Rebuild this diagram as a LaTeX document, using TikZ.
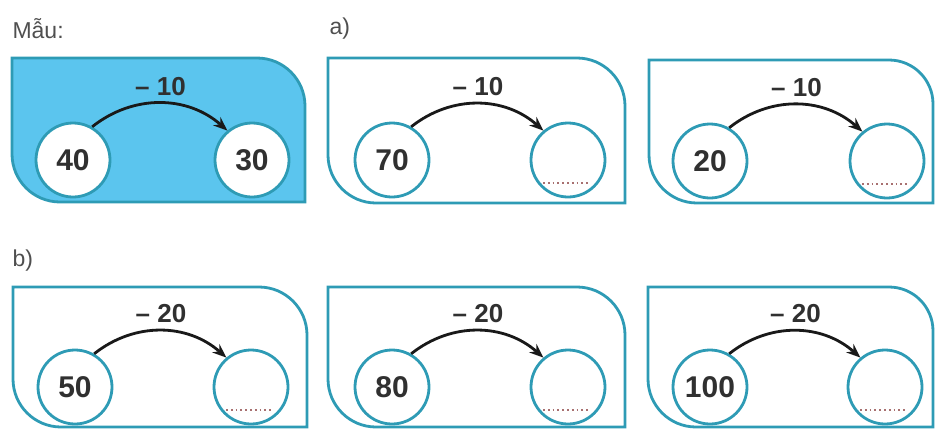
\documentclass[tikz,border=0pt]{standalone}
\usepackage{fontspec}
\setmainfont{Liberation Sans}
\usetikzlibrary{arrows.meta}

\definecolor{panelblue}{HTML}{2E9BB5}
\definecolor{samplefill}{HTML}{5BC5EE}
\definecolor{inktext}{HTML}{303030}
\definecolor{dotred}{HTML}{A87070}

\begin{document}
\begin{tikzpicture}[x=1pt,y=1pt]
	\tikzstyle{panel_line} = [draw=panelblue, line width=2.8pt]
	\tikzstyle{num_circle} = [circle, draw=panelblue, line width=2.8pt, fill=white, minimum size=74pt, inner sep=0pt, font=\bfseries\fontsize{30}{30}\selectfont, text=inktext]
	\tikzstyle{step_arrow} = [-{Stealth[length=14pt,width=11pt]}, line width=2.8pt, draw=black!90, bend left=40]
	\tikzstyle{step_label} = [above=3pt, font=\bfseries\fontsize{26}{26}\selectfont, text=inktext]
	\tikzstyle{blank_dots} = [dotred, line width=1.8pt, dash pattern=on 1.8pt off 3pt]
	\tikzstyle{part_label} = [anchor=west, font=\fontsize{23}{23}\selectfont, text=inktext!85]

	\useasboundingbox (0,0) rectangle (936,-429);
	\clip (0,0) rectangle (936,-429);

%------------------------------------------------------------
	\node[part_label] (lmau) at (9,-29) {Mẫu:};
	\node[part_label] (la) at (326,-29) {a)};
	\node[part_label] (lb) at (9,-261) {b)};

%------------------------------------------------------------

	\draw[panel_line, fill=samplefill] (12,-58) -- (257,-58) arc[start angle=90, end angle=0, radius=48] -- (305,-202) -- (60,-202) arc[start angle=270, end angle=180, radius=48] -- cycle;
	\node[num_circle] (s0) at (73,-160) {\raisebox{-3pt}{40}};
	\node[num_circle] (t0) at (252,-160) {\raisebox{-3pt}{30}};
	\draw[step_arrow] (s0.60) to node[step_label] {– 10} (t0.130);

%------------------------------------------------------------

	\draw[panel_line] (328,-58) -- (577,-58) arc[start angle=90, end angle=0, radius=48] -- (625,-203) -- (376,-203) arc[start angle=270, end angle=180, radius=48] -- cycle;
	\node[num_circle] (s1) at (392,-160) {\raisebox{-3pt}{70}};
	\node[num_circle] (t1) at (568,-160) {};
	\draw[step_arrow] (s1.60) to node[step_label] {– 10} (t1.130);
	\draw[blank_dots] ([shift={(-25,-23)}]t1.center) -- ([shift={(20,-23)}]t1.center);

%------------------------------------------------------------

	\draw[panel_line] (649,-60) -- (889,-60) arc[start angle=90, end angle=0, radius=44] -- (933,-203) -- (697,-203) arc[start angle=270, end angle=180, radius=48] -- cycle;
	\node[num_circle] (s2) at (710,-161) {\raisebox{-3pt}{20}};
	\node[num_circle] (t2) at (887,-161) {};
	\draw[step_arrow] (s2.60) to node[step_label] {– 10} (t2.130);
	\draw[blank_dots] ([shift={(-25,-23)}]t2.center) -- ([shift={(20,-23)}]t2.center);

%------------------------------------------------------------

	\draw[panel_line] (13,-287) -- (259,-287) arc[start angle=90, end angle=0, radius=48] -- (307,-427) -- (61,-427) arc[start angle=270, end angle=180, radius=48] -- cycle;
	\node[num_circle] (s3) at (75,-387) {\raisebox{-3pt}{50}};
	\node[num_circle] (t3) at (251,-387) {};
	\draw[step_arrow] (s3.60) to node[step_label] {– 20} (t3.130);
	\draw[blank_dots] ([shift={(-25,-23)}]t3.center) -- ([shift={(20,-23)}]t3.center);

%------------------------------------------------------------

	\draw[panel_line] (328,-287) -- (577,-287) arc[start angle=90, end angle=0, radius=48] -- (625,-427) -- (376,-427) arc[start angle=270, end angle=180, radius=48] -- cycle;
	\node[num_circle] (s4) at (392,-387) {\raisebox{-3pt}{80}};
	\node[num_circle] (t4) at (568,-387) {};
	\draw[step_arrow] (s4.60) to node[step_label] {– 20} (t4.130);
	\draw[blank_dots] ([shift={(-25,-23)}]t4.center) -- ([shift={(20,-23)}]t4.center);

%------------------------------------------------------------

	\draw[panel_line] (648,-287) -- (889,-287) arc[start angle=90, end angle=0, radius=44] -- (933,-427) -- (696,-427) arc[start angle=270, end angle=180, radius=48] -- cycle;
	\node[num_circle] (s5) at (710,-387) {\raisebox{-3pt}{100}};
	\node[num_circle] (t5) at (885,-387) {};
	\draw[step_arrow] (s5.60) to node[step_label] {– 20} (t5.130);
	\draw[blank_dots] ([shift={(-25,-23)}]t5.center) -- ([shift={(20,-23)}]t5.center);

\end{tikzpicture}
\end{document}
